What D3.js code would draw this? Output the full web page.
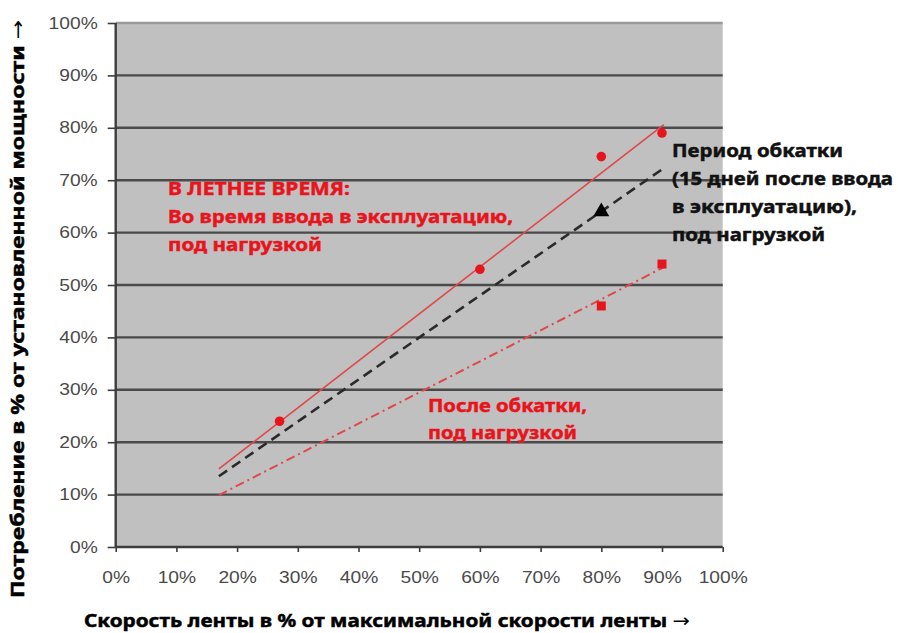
<!DOCTYPE html>
<html>
<head>
<meta charset="utf-8">
<script src="https://cdn.jsdelivr.net/npm/d3@7"></script>
<style>
  html, body { margin: 0; padding: 0; background: #fff; }
  svg { display: block; }
</style>
</head>
<body>
<svg id="chart" width="898" height="633"></svg>
<script>
// Measured points (x = belt speed %, y = consumption %)
const summerX = [27, 60, 80, 90];
const summerY = [24, 53, 74.5, 79];
const afterX = [80, 90];
const afterY = [46, 54];
const runInX = [80];
const runInY = [64];

// Trend lines: [x0, x1] and [y0, y1]
const summerLineX = [17, 90.3];
const summerLineY = [14.9, 80.6];
const runInLineX = [17, 90.3];
const runInLineY = [13.5, 72.3];
const afterLineX = [17, 90.3];
const afterLineY = [9.9, 53.4];

const xTicks = [0, 10, 20, 30, 40, 50, 60, 70, 80, 90, 100];
const yTicks = [0, 10, 20, 30, 40, 50, 60, 70, 80, 90, 100];

const yTitle = "Потребление в % от установленной мощности";
const xTitle = "Скорость ленты в % от максимальной скорости ленты";
const arrow = "→";
const summerLabel = ["В ЛЕТНЕЕ ВРЕМЯ:", "Во время ввода в эксплуатацию,", "под нагрузкой"];
const runInLabel = ["Период обкатки", "(15 дней после ввода", "в эксплуатацию),", "под нагрузкой"];
const afterLabel = ["После обкатки,", "под нагрузкой"];

const svg = d3.select("#chart");
const x = d3.scaleLinear().domain([0, 100]).range([115.7, 722.7]);
const y = d3.scaleLinear().domain([0, 100]).range([547, 23]);
const RED = "#e8141c";
const pct = d => d + "%";

// plot background
svg.append("rect")
  .attr("x", x(0)).attr("y", y(100))
  .attr("width", x(100) - x(0)).attr("height", y(0) - y(100))
  .attr("fill", "#c0c0c0");

// horizontal grid
svg.append("g").selectAll("line")
  .data(yTicks.filter(d => d > 0))
  .join("line")
  .attr("x1", x(0)).attr("x2", x(100))
  .attr("y1", d => y(d)).attr("y2", d => y(d))
  .attr("stroke", d => d === 100 ? "#9a9a9a" : "#4a4a4a")
  .attr("stroke-width", 2.4);

// axes
const stretch = sel => sel.each(function () {
  const w = this.getComputedTextLength();
  d3.select(this).attr("textLength", w * 1.2).attr("lengthAdjust", "spacingAndGlyphs");
});

const yAxis = svg.append("g")
  .attr("transform", `translate(${x(0)},0)`)
  .call(d3.axisLeft(y).tickValues(yTicks).tickFormat(pct).tickSize(8).tickPadding(10));
const xAxis = svg.append("g")
  .attr("transform", `translate(0,${y(0)})`)
  .call(d3.axisBottom(x).tickValues(xTicks).tickFormat(pct).tickSize(5).tickPadding(20));

[yAxis, xAxis].forEach(g => {
  g.select(".domain").attr("stroke", "#3c3c3c").attr("stroke-width", 2.4);
  g.selectAll(".tick line").attr("stroke", "#3c3c3c").attr("stroke-width", 1.6);
  g.selectAll(".tick text")
    .attr("fill", "#4a4a4a")
    .style("font-family", "'Liberation Sans', Arial, sans-serif")
    .style("font-size", "16px")
    .call(stretch);
});
xAxis.select(".domain").attr("d", `M${x(0)},0H${x(100)}`);
yAxis.select(".domain").attr("d", `M0,${y(0)}V${y(100)}`);

// trend lines
const line = d3.line().x(d => x(d[0])).y(d => y(d[1]));
const pairs = (xs, ys) => xs.map((v, i) => [v, ys[i]]);

svg.append("path")
  .datum(pairs(afterLineX, afterLineY))
  .attr("d", line).attr("fill", "none")
  .attr("stroke", "#e04848").attr("stroke-width", 2)
  .attr("stroke-dasharray", "9 4 2 4");
svg.append("path")
  .datum(pairs(runInLineX, runInLineY))
  .attr("d", line).attr("fill", "none")
  .attr("stroke", "#2a2a2a").attr("stroke-width", 2.6)
  .attr("stroke-dasharray", "10 6");
svg.append("path")
  .datum(pairs(summerLineX, summerLineY))
  .attr("d", line).attr("fill", "none")
  .attr("stroke", "#e04848").attr("stroke-width", 1.6);

// markers
svg.append("g").selectAll("circle")
  .data(pairs(summerX, summerY))
  .join("circle")
  .attr("cx", d => x(d[0])).attr("cy", d => y(d[1]))
  .attr("r", 4.8).attr("fill", RED);

svg.append("g").selectAll("rect")
  .data(pairs(afterX, afterY))
  .join("rect")
  .attr("x", d => x(d[0]) - 4.5).attr("y", d => y(d[1]) - 4.5)
  .attr("width", 9).attr("height", 9).attr("fill", RED);

svg.append("g").selectAll("path")
  .data(pairs(runInX, runInY))
  .join("path")
  .attr("d", d3.symbol(d3.symbolTriangle, 110))
  .attr("transform", d => `translate(${x(d[0])},${y(d[1])})`)
  .attr("fill", "#000");

// text blocks (heavy bold: fill plus thin outline of the same colour)
const font = "'Noto Sans', 'Open Sans', sans-serif";
const heavy = (el, color) => el
  .attr("fill", color).attr("stroke", color).attr("stroke-width", 0.5)
  .style("font-family", font).style("font-weight", 700).style("font-size", "18.5px");

function block(lines, x0, y0, dy, color, widths) {
  const t = svg.append("g");
  lines.forEach((s, i) => {
    t.append("text")
      .attr("x", x0).attr("y", y0 + i * dy)
      .attr("textLength", widths[i]).attr("lengthAdjust", "spacingAndGlyphs")
      .call(heavy, color)
      .text(s);
  });
}
block(summerLabel, 168, 195, 28, RED, [182, 345, 154]);
block(runInLabel, 672, 157, 28, "#111", [171, 221, 185, 153]);
block(afterLabel, 428, 412, 27, RED, [159, 149]);

// axis titles with arrow glyph
function title(el, text, len) {
  el.attr("textLength", len).attr("lengthAdjust", "spacingAndGlyphs").call(heavy, "#000");
  el.append("tspan").text(text + " ");
  el.append("tspan").attr("stroke-width", 0).style("font-family", "'DejaVu Sans'").style("font-weight", 400).text(arrow);
}
title(svg.append("text").attr("x", 84).attr("y", 627), xTitle, 606);
title(svg.append("text").attr("transform", "translate(24,598) rotate(-90)"), yTitle, 578);
</script>
</body>
</html>
